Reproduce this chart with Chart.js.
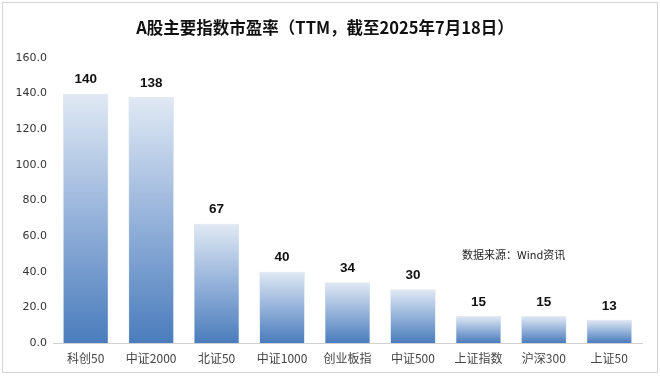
<!DOCTYPE html>
<html>
<head>
<meta charset="utf-8">
<script src="https://cdn.jsdelivr.net/npm/chart.js@4"></script>
<style>
  html, body { margin: 0; padding: 0; background: #fff; }
  #wrap { width: 660px; height: 378px; }
</style>
</head>
<body>
<div id="wrap"><canvas id="peChart" width="660" height="378"></canvas></div>
<script>
// 指数名称与市盈率（TTM）
const categories = ["科创50", "中证2000", "北证50", "中证1000", "创业板指", "中证500", "上证指数", "沪深300", "上证50"];
const peValues = [140, 138, 67, 40, 34, 30, 15, 15, 13];
const yTicks = [0, 20, 40, 60, 80, 100, 120, 140, 160];

const titleText = "A股主要指数市盈率（TTM，截至2025年7月18日）";
const sourceText = "数据来源：Wind资讯";
const cjk = '"Noto Sans CJK SC", "Noto Sans", sans-serif';

// 每根柱子自上而下的渐变
function barGradient(context) {
  const chart = context.chart;
  const y = chart.scales.y;
  if (!y || !chart.chartArea) return "#6f95c9";
  const top = y.getPixelForValue(context.raw);
  const base = y.getPixelForValue(0);
  const g = chart.ctx.createLinearGradient(0, top, 0, base);
  g.addColorStop(0, "#e0e9f4");
  g.addColorStop(0.5, "#95b2da");
  g.addColorStop(1, "#4a7cbc");
  return g;
}

// 标题、数值标签、来源、外框
const extras = {
  id: "extras",
  afterDatasetsDraw(chart) {
    const ctx = chart.ctx;
    const meta = chart.getDatasetMeta(0);
    ctx.save();
    ctx.fillStyle = "#111";
    ctx.font = "bold 13.5px Arial, 'Liberation Sans', sans-serif";
    ctx.textAlign = "center";
    ctx.textBaseline = "middle";
    meta.data.forEach((bar, i) => {
      ctx.fillText(String(peValues[i]), bar.x, bar.y - 14);
    });
    ctx.restore();
  },
  afterDraw(chart) {
    const ctx = chart.ctx;
    ctx.save();
    ctx.fillStyle = "#111";
    ctx.font = "bold 16.5px " + cjk;
    ctx.textAlign = "center";
    ctx.textBaseline = "middle";
    ctx.fillText(titleText, 325, 28);

    ctx.font = "11px " + cjk;
    ctx.fillStyle = "#222";
    ctx.textAlign = "left";
    ctx.fillText(sourceText, 462, 255);

    ctx.strokeStyle = "#d4d4d4";
    ctx.lineWidth = 1;
    ctx.strokeRect(2.5, 2.5, 655, 370);
    ctx.restore();
  }
};

new Chart(document.getElementById("peChart").getContext("2d"), {
  type: "bar",
  data: {
    labels: categories,
    datasets: [{
      label: "市盈率",
      data: peValues,
      backgroundColor: barGradient,
      borderColor: "rgba(60, 100, 160, 0.35)",
      borderWidth: 0.5,
      barPercentage: 0.69,
      categoryPercentage: 1.0
    }]
  },
  options: {
    responsive: false,
    animation: false,
    layout: { padding: { top: 58, left: 3, right: 18, bottom: 5 } },
    plugins: {
      legend: { display: false },
      tooltip: { enabled: false }
    },
    scales: {
      x: {
        grid: { display: false, drawTicks: false },
        border: { display: true, color: "#d0d0d0" },
        ticks: {
          color: "#444",
          padding: 8,
          maxRotation: 0,
          autoSkip: false,
          font: { size: 12, family: cjk }
        },
        afterFit(scale) { scale.height = 30; }
      },
      y: {
        min: 0,
        max: 160,
        afterBuildTicks(scale) { scale.ticks = yTicks.map((v) => ({ value: v })); },
        grid: { display: false, drawTicks: false },
        border: { display: false },
        ticks: {
          color: "#333",
          padding: 6,
          font: { size: 11, family: '"DejaVu Sans", sans-serif' },
          callback: (v) => Number(v).toFixed(1)
        },
        afterFit(scale) { scale.width = 50; }
      }
    }
  },
  plugins: [extras]
});
</script>
</body>
</html>
